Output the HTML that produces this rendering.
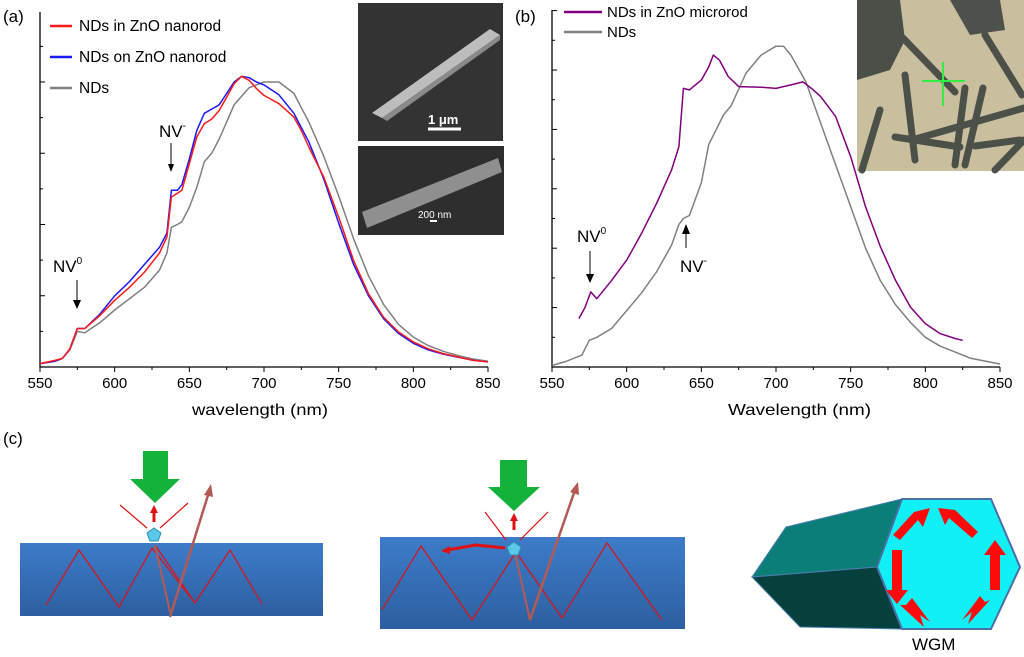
<!DOCTYPE html>
<html><head><meta charset="utf-8"><style>
html,body{margin:0;padding:0;background:#fff;}
svg{display:block;font-family:"Liberation Sans",sans-serif;}
</style></head><body>
<svg id="fig" width="1024" height="657" viewBox="0 0 1024 657">
<defs>
<linearGradient id="slab" x1="0" y1="0" x2="0" y2="1"><stop offset="0" stop-color="#3d7cc9"/><stop offset="1" stop-color="#2d5fa0"/></linearGradient>
</defs>
<g id="pa"></g>
<g id="pb"></g>

<!-- insets -->
<g>
<rect x="358" y="3" width="145" height="138" fill="#333"/>
<polygon points="372,113 382,118 500,35 490,29" fill="#bdbdbd"/>
<polygon points="382,118 387,121 500,40 500,35" fill="#8a8a8a"/>
<line x1="428" y1="129" x2="461" y2="129" stroke="#fff" stroke-width="3"/>
<text x="428" y="124" font-size="13" fill="#fff" font-weight="bold">1 μm</text>
</g>
<g>
<rect x="358" y="146" width="146" height="89" fill="#2e2e2e"/>
<polygon points="362,212 367,228 502,172 498,158" fill="#8f8f8f"/>
<text x="418" y="218" font-size="10" fill="#fff">200 nm</text>
<line x1="430" y1="221" x2="437" y2="221" stroke="#fff" stroke-width="2"/>
</g>
<g>
<rect x="857" y="0" width="167" height="171" fill="#c9bf9e"/>
<path d="M857 0 L900 0 L905 40 L890 70 L857 80 Z" fill="#4a4f48"/>
<path d="M950 0 L1000 0 L1005 30 L970 35 Z" fill="#4d514b"/>
<g stroke="#4b5048" stroke-width="7" stroke-linecap="round">
<line x1="903" y1="38" x2="955" y2="92"/><line x1="985" y1="35" x2="1022" y2="95"/>
<line x1="965" y1="88" x2="955" y2="165"/><line x1="983" y1="88" x2="965" y2="165"/>
<line x1="912" y1="140" x2="1024" y2="108"/><line x1="895" y1="137" x2="960" y2="147"/>
<line x1="905" y1="75" x2="915" y2="160"/><line x1="880" y1="110" x2="862" y2="170"/>
<line x1="975" y1="146" x2="1020" y2="140"/><line x1="995" y1="170" x2="1024" y2="140"/>
</g>
<line x1="922" y1="81" x2="965" y2="81" stroke="#33ee44" stroke-width="2"/>
<line x1="943" y1="62" x2="943" y2="106" stroke="#33ee44" stroke-width="2"/>
</g>

<text x="3" y="22" font-size="17">(a)</text>
<text x="515" y="22" font-size="17">(b)</text>
<text x="3" y="444" font-size="17">(c)</text>
<text x="192" y="415" font-size="16" textLength="136" lengthAdjust="spacingAndGlyphs">wavelength (nm)</text>
<text x="728" y="415" font-size="16" textLength="143" lengthAdjust="spacingAndGlyphs">Wavelength (nm)</text>

<!-- annotations -->
<g font-size="17">
<text x="53" y="272">NV<tspan font-size="10" dy="-8">0</tspan></text>
<line x1="77" y1="280" x2="77" y2="303" stroke="#000"/><polygon points="73,300 81,300 77,309" fill="#000"/>
<text x="159" y="137">NV<tspan font-size="10" dy="-8">-</tspan></text>
<line x1="171" y1="143" x2="171" y2="166" stroke="#000"/><polygon points="168,164 174,164 171,172" fill="#000"/>
<text x="577" y="242">NV<tspan font-size="10" dy="-8">0</tspan></text>
<line x1="590" y1="251" x2="590" y2="277" stroke="#000"/><polygon points="586,274 594,274 590,283" fill="#000"/>
<text x="680" y="272">NV<tspan font-size="10" dy="-8">-</tspan></text>
<line x1="686" y1="248" x2="686" y2="232" stroke="#000"/><polygon points="682,234 690,234 686,224" fill="#000"/>
</g>

<!-- panel c left -->
<g>
<rect x="20" y="543" width="303" height="73" fill="url(#slab)"/>
<polyline points="46,605 79,550 119,607 152,548 195,603 230,550 262,604" fill="none" stroke="#e01010" stroke-width="1.2"/>
<line x1="155" y1="545" x2="195" y2="603" stroke="#e01010" stroke-width="1.2"/>
<polygon points="143,451 168,451 168,479 180,479 155,503 130,479 143,479" fill="#14b23a"/>
<g stroke="#e01010" stroke-width="1.2" fill="none"><line x1="147" y1="528" x2="120" y2="505"/><line x1="160" y1="528" x2="188" y2="503"/></g>
<line x1="154" y1="522" x2="154" y2="512" stroke="#e01010" stroke-width="3"/><polygon points="150,513 158,513 154,505" fill="#e01010"/>
<line x1="170" y1="617" x2="209" y2="492" stroke="#b35a55" stroke-width="2.5"/><polygon points="204,495 213,497 211,484" fill="#b35a55"/>
<line x1="155" y1="545" x2="170" y2="612" stroke="#b35a55" stroke-width="2"/>
<polygon points="147,533 154,528 161,533 158,541 150,541" fill="#5cc8e8" stroke="#2b8fb5"/>
</g>
<!-- panel c middle -->
<g>
<rect x="380" y="537" width="305" height="92" fill="url(#slab)"/>
<polyline points="382,610 421,546 472,620 516,552 562,618 607,543 662,620" fill="none" stroke="#e01010" stroke-width="1.2"/>
<polygon points="500,460 527,460 527,487 540,487 514,511 488,487 500,487" fill="#14b23a"/>
<g stroke="#e01010" stroke-width="1.2" fill="none"><line x1="506" y1="540" x2="485" y2="512"/><line x1="520" y1="540" x2="548" y2="512"/></g>
<line x1="514" y1="530" x2="514" y2="520" stroke="#e01010" stroke-width="3"/><polygon points="510,521 518,521 514,513" fill="#e01010"/>
<polyline points="505,548 476,545 447,550" fill="none" stroke="#e01010" stroke-width="3"/><polygon points="450,546 450,554 441,551" fill="#e01010"/>
<line x1="530" y1="620" x2="575" y2="490" stroke="#b35a55" stroke-width="2.5"/><polygon points="570,492 579,495 578,482" fill="#b35a55"/>
<line x1="515" y1="553" x2="530" y2="620" stroke="#b35a55" stroke-width="2"/>
<polygon points="507,547 514,542 521,547 518,555 510,555" fill="#5cc8e8" stroke="#2b8fb5"/>
</g>
<!-- hexagon prism -->
<g>
<polygon points="786,527 902,499 877,567 752,577" fill="#0b7e78" stroke="#4a7fb0"/>
<polygon points="752,577 877,567 902,629 800,627" fill="#06403d" stroke="#4a7fb0"/>
<polygon points="902,499 991,499 1020,567 991,629 902,629 877,567" fill="#11f0f4" stroke="#4a6fa8" stroke-width="2"/>
<g fill="#ff0a0a">
<polygon points="938,508 955,510 978,532 972,538 949,518 945,525"/>
<polygon points="930,508 914,512 893,535 900,540 918,520 923,527"/>
<polygon points="892,550 902,550 902,590 908,590 897,604 886,590 892,590"/>
<polygon points="990,590 1000,590 1000,555 1006,555 995,540 984,555 990,555"/>
<polygon points="900,605 924,627 920,615 930,622 912,598 906,605"/>
<polygon points="990,600 968,624 972,612 962,620 980,596 985,602"/>
</g>
<text x="912" y="650" font-size="17">WGM</text>
</g>
</svg>
<script>
// Panel (a) data
const waveA = [550,560,565,570,575,580,590,600,610,620,630,635,638,642,645,650,655,660,665,670,675,680,685,690,695,700,710,720,725,730,740,750,760,770,780,790,800,810,820,830,840,850];
const inRod = [0.012,0.023,0.03,0.064,0.135,0.135,0.18,0.234,0.28,0.333,0.40,0.456,0.596,0.61,0.62,0.713,0.807,0.854,0.87,0.90,0.947,0.994,1.02,1.006,0.977,0.953,0.924,0.877,0.83,0.772,0.667,0.526,0.374,0.257,0.175,0.123,0.088,0.064,0.047,0.035,0.023,0.018];
const onRod = [0.012,0.02,0.03,0.064,0.135,0.135,0.185,0.25,0.30,0.36,0.42,0.47,0.62,0.62,0.64,0.73,0.83,0.89,0.905,0.92,0.96,1.0,1.02,1.015,1.0,0.99,0.955,0.89,0.84,0.79,0.66,0.505,0.36,0.25,0.17,0.118,0.083,0.06,0.045,0.034,0.024,0.018];
const ndsA = [0.012,0.02,0.03,0.06,0.125,0.12,0.155,0.20,0.24,0.28,0.34,0.40,0.49,0.50,0.51,0.56,0.63,0.72,0.75,0.80,0.86,0.92,0.95,0.98,0.99,1.0,1.0,0.96,0.91,0.86,0.74,0.60,0.45,0.32,0.22,0.15,0.105,0.075,0.055,0.04,0.028,0.02];
// Panel (b) data
const waveMicro = [568,572,576,580,590,600,610,620,630,635,638,642,650,655,658,662,668,675,690,700,710,718,725,730,740,750,760,770,780,790,800,810,820,825];
const inMicro = [0.163,0.20,0.253,0.23,0.292,0.36,0.45,0.55,0.663,0.742,0.938,0.933,0.966,1.011,1.05,1.034,0.978,0.944,0.942,0.938,0.95,0.96,0.933,0.91,0.843,0.708,0.539,0.404,0.292,0.202,0.146,0.112,0.096,0.09];
const waveB = [550,560,570,575,580,590,600,610,620,630,635,638,642,650,655,660,665,670,680,690,700,705,710,720,730,740,750,760,770,780,790,800,810,820,830,840,850];
const ndsB = [0.005,0.02,0.04,0.09,0.1,0.13,0.19,0.25,0.32,0.41,0.48,0.5,0.51,0.62,0.75,0.8,0.85,0.88,0.99,1.05,1.08,1.08,1.05,0.96,0.82,0.68,0.54,0.40,0.29,0.21,0.15,0.10,0.07,0.05,0.03,0.02,0.01];
const xTicks = [550,600,650,700,750,800,850];

const NS='http://www.w3.org/2000/svg';
function mk(tag,attrs,parent){const e=document.createElementNS(NS,tag);for(const k in attrs)e.setAttribute(k,attrs[k]);parent.appendChild(e);return e;}

function drawPanel(g,x0,yTop,yScalePx,majorYs,name){
  const xs=w=>x0+(w-550)*448/300;
  const ys=v=>367-v*yScalePx;
  const ax=mk('path',{d:`M${x0} ${yTop} V367 H${x0+448}`,fill:'none',stroke:'#000','stroke-width':1.3},g);
  
  
  for(let w=550;w<=850;w+=25){
    const t=mk('line',{x1:xs(w),x2:xs(w),y1:367,y2:367+(w%50===0?5:3),stroke:'#000'},g);
    
    
  }
  xTicks.forEach(w=>{
    const t=mk('text',{x:xs(w),y:388,'font-size':15,'text-anchor':'middle'},g);t.textContent=w;
    
    
  });
  const step=yScalePx*majorYs;
  for(let k=1;367-k*step/2>=yTop;k++){
    const y=367-k*step/2;
    const t=mk('line',{x1:x0,x2:x0+(k%2===0?5:3),y1:y,y2:y,stroke:'#000'},g);
    
    
  }
  return {xs,ys};
}
function line(g,sc,xsArr,ysArr,color,name,w){
  const d=xsArr.map((x,i)=>(i?'L':'M')+sc.xs(x).toFixed(1)+' '+sc.ys(ysArr[i]).toFixed(1)).join(' ');
  const p=mk('path',{d,fill:'none',stroke:color,'stroke-width':w||1.5,'stroke-linejoin':'round'},g);
  
  
}
function legend(g,x,y,color,label,fs){
  const l=mk('line',{x1:x,x2:x+(fs>15?22:38),y1:y,y2:y,stroke:color,'stroke-width':2.5},g);
  
  
  const t=mk('text',{x:x+(fs>15?29:43),y:y+5,'font-size':fs},g);t.textContent=label;
  
  
}
const ga=document.getElementById('pa');
const sa=drawPanel(ga,40,12,285,0.25,'panel-a');
line(ga,sa,waveA,ndsA,'#808080','series-nds-a');
line(ga,sa,waveA,onRod,'#1a1aff','series-nds-on-nanorod');
line(ga,sa,waveA,inRod,'#ff1a1a','series-nds-in-nanorod');
legend(ga,50,26,'#ff1a1a','NDs in ZnO nanorod',15.5);
legend(ga,50,57,'#1a1aff','NDs on ZnO nanorod',15.5);
legend(ga,50,88,'#808080','NDs',15.5);

const gb=document.getElementById('pb');
const sb=drawPanel(gb,552,10,297,0.2,'panel-b');
line(gb,sb,waveB,ndsB,'#808080','series-nds-b');
line(gb,sb,waveMicro,inMicro,'#800080','series-nds-in-microrod');
legend(gb,564,12,'#800080','NDs in ZnO microrod',15);
legend(gb,564,32,'#808080','NDs',15);
</script>
</body></html>
